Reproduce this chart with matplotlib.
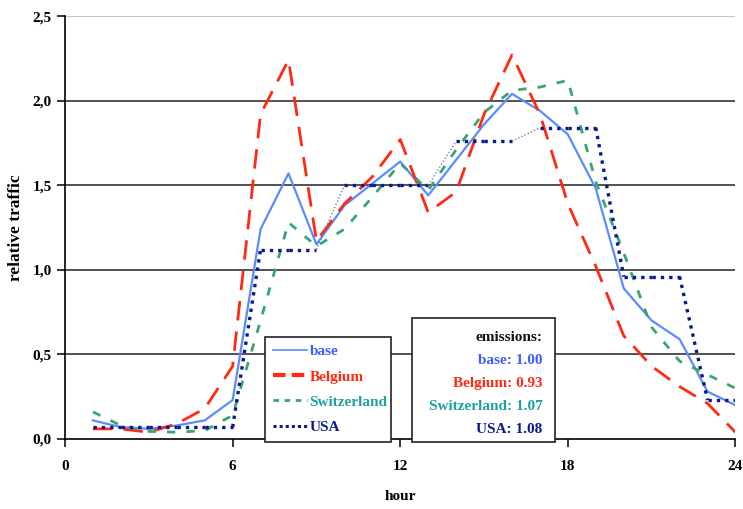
import numpy as np
import matplotlib
matplotlib.use("Agg")
import matplotlib.pyplot as plt
from matplotlib.collections import LineCollection
from matplotlib.lines import Line2D

# --- datos ---
hours = list(range(1, 25))
base = [0.11, 0.07, 0.06, 0.08, 0.11, 0.23, 1.24, 1.57, 1.15, 1.38, 1.51, 1.64,
        1.44, 1.65, 1.86, 2.04, 1.94, 1.80, 1.48, 0.89, 0.70, 0.59, 0.28, 0.20]
belgium = [0.06, 0.06, 0.04, 0.09, 0.18, 0.43, 1.92, 2.24, 1.17, 1.39, 1.55, 1.77,
           1.34, 1.46, 1.92, 2.27, 1.92, 1.39, 1.02, 0.61, 0.43, 0.31, 0.21, 0.04]
switzerland = [0.16, 0.08, 0.045, 0.04, 0.05, 0.14, 0.70, 1.28, 1.14, 1.24, 1.43, 1.63,
               1.47, 1.71, 1.93, 2.06, 2.08, 2.12, 1.52, 1.10, 0.66, 0.46, 0.38, 0.30]
usa = [0.07] * 6 + [1.12] * 3 + [1.50] * 4 + [1.76] * 3 + [1.84] * 3 + [0.96] * 3 + [0.23] * 2

emissions = {"base": "1.00", "Belgium": "0.93", "Switzerland": "1.07", "USA": "1.08"}

c_base = "#5a8cff"
c_base_txt = "#3f5cff"
c_bel = "#ff2a10"
c_sw = "#3aa472"
c_sw_txt = "#1fa0a0"
c_usa = "#0a1a8c"

plt.rcParams["font.family"] = ["Liberation Serif", "DejaVu Serif"]
plt.rcParams["font.weight"] = "bold"
plt.rcParams["font.size"] = 10

fig = plt.figure(figsize=(7.43, 5.09), dpi=100)
ax = fig.add_axes([0.0875, 0.1375, 0.9024, 0.831])

ax.plot(hours, base, color=c_base, lw=1.6, zorder=3)
ax.plot(hours, belgium, color=c_bel, lw=2.0, dashes=(7, 4), zorder=3)
ax.plot(hours, switzerland, color=c_sw, lw=2.0, dashes=(3, 4), zorder=3)

# USA: escalones gruesos, conectores suaves finos
pts = np.column_stack([hours, usa])
segs = np.stack([pts[:-1], pts[1:]], axis=1)
jumps = np.abs(np.diff(usa))
thick = (jumps == 0) | (jumps > 0.5)
lc = LineCollection(segs, colors=[c_usa if t else "#7777bb" for t in thick],
                    linewidths=[2.4 if t else 1.0 for t in thick],
                    linestyles=(0, (1.0, 1.5)), zorder=4)
ax.add_collection(lc)

ax.set_xlim(0, 24)
ax.set_ylim(0, 2.5)
ax.set_xticks([0, 6, 12, 18, 24])
ax.set_yticks([0, 0.5, 1.0, 1.5, 2.0, 2.5])
ax.set_yticklabels(["0,0", "0,5", "1,0", "1,5", "2,0", "2,5"])
for y in [0.5, 1.0, 1.5, 2.0]:
    ax.axhline(y, color="#222222", lw=1.1, zorder=1)
ax.axhline(2.5, color="#bbbbbb", lw=1.2, zorder=1)
for s in ["top", "right"]:
    ax.spines[s].set_visible(False)
ax.spines["left"].set_linewidth(1.2)
ax.spines["bottom"].set_linewidth(1.2)
ax.tick_params(direction="out", length=6, width=1.1, labelsize=11)
ax.tick_params(axis="x", pad=9)
ax.set_xlabel("hour", fontsize=11, fontweight="bold", labelpad=12)
ax.set_ylabel("relative traffic", fontsize=12.5, fontweight="bold", labelpad=6)

handles = [
    Line2D([], [], color=c_base, lw=1.2),
    Line2D([], [], color=c_bel, lw=3, dashes=(3, 1.5)),
    Line2D([], [], color=c_sw, lw=2, dashes=(2, 2)),
    Line2D([], [], color=c_usa, lw=2.2, linestyle=(0, (1, 1))),
]
leg = ax.legend(handles, list(emissions.keys()), loc="lower left",
                bbox_to_anchor=(0.2988, -0.006, 0.1872, 0.248), mode="expand",
                fancybox=False, framealpha=1, edgecolor="#222222", handlelength=2.2,
                handletextpad=0.2, borderpad=0.5, labelspacing=0.75,
                prop={"size": 11, "weight": "bold"}, borderaxespad=0)
leg.get_frame().set_linewidth(1.2)
leg.set_zorder(5)
for txt, col in zip(leg.get_texts(), [c_base_txt, c_bel, c_sw_txt, c_usa]):
    txt.set_color(col)

# caja de emisiones
box_lines = ["emissions:"] + [f"{k}: {v}" for k, v in emissions.items()]
box_cols = ["#111111", c_base_txt, c_bel, c_sw_txt, c_usa]
ax.add_patch(plt.Rectangle((0.5176, -0.006), 0.2132, 0.292, transform=ax.transAxes,
                           facecolor="white", edgecolor="#222222", lw=1.2,
                           zorder=5, clip_on=False))
for i, (t, c) in enumerate(zip(box_lines, box_cols)):
    ax.text(0.7125, 0.2395 - i * 0.054, t, transform=ax.transAxes, ha="right",
            va="center", color=c, fontsize=11, fontweight="bold", zorder=6)

fig.savefig("out.png", dpi=100)
